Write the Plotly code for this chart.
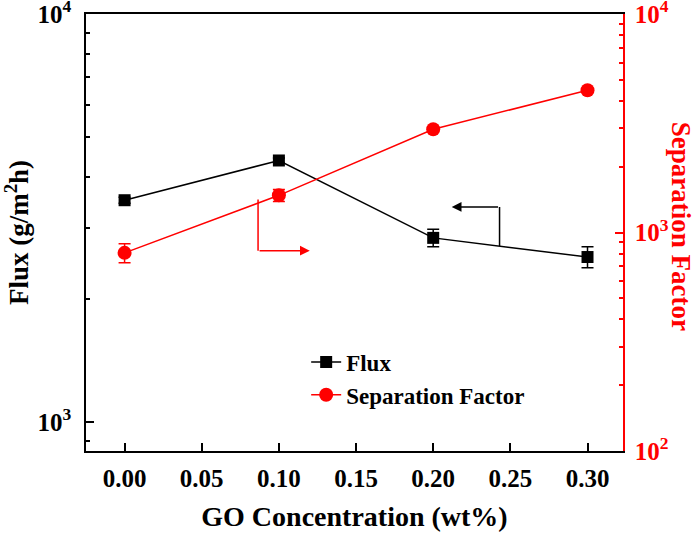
import plotly.graph_objects as go
import math

go_conc = [0.00, 0.10, 0.20, 0.30]
flux = [3500, 4380, 2830, 2540]
flux_err = [60, 60, 140, 150]
sep_factor = [807, 1480, 2970, 4480]
sep_err = [80, 95, 0, 0]

x_ticks = [0.00, 0.05, 0.10, 0.15, 0.20, 0.25, 0.30]
x_ticktext = ["0.00", "0.05", "0.10", "0.15", "0.20", "0.25", "0.30"]
left_tickvals = [1000, 10000]
left_ticktext = ["10<sup>3</sup>", "10<sup>4</sup>"]
right_tickvals = [100, 1000, 10000]
right_ticktext = ["10<sup>2</sup>", "10<sup>3</sup>", "10<sup>4</sup>"]

FONT = "Liberation Serif"
RED = "#ff0000"

fig = go.Figure()
fig.add_trace(go.Scatter(
    x=go_conc, y=flux, name="Flux", mode="lines+markers",
    line=dict(color="black", width=1.5),
    marker=dict(symbol="square", size=12, color="black"),
    error_y=dict(type="data", array=flux_err, color="black", thickness=1.5, width=6),
    yaxis="y",
))
fig.add_trace(go.Scatter(
    x=go_conc, y=sep_factor, name="Separation Factor", mode="lines+markers",
    line=dict(color=RED, width=1.5),
    marker=dict(symbol="circle", size=14, color=RED),
    error_y=dict(type="data", array=sep_err, color=RED, thickness=1.5, width=6),
    yaxis="y2",
))

minor_left = [900] + [v * 1000 for v in range(2, 10)]
minor_right = [v * 100 for v in range(2, 10)] + [v * 1000 for v in range(2, 10)]

fig.update_layout(
    width=700, height=535,
    margin=dict(l=86, r=77, t=14, b=84, autoexpand=False),
    paper_bgcolor="white", plot_bgcolor="white",
    font=dict(family=FONT, color="black"),
    xaxis=dict(
        range=[-0.025, 0.323], tickvals=x_ticks, ticktext=x_ticktext,
        ticks="inside", ticklen=8, tickwidth=1.5, tickcolor="black",
        showline=True, linecolor="black", linewidth=1.5, mirror=True,
        showgrid=False, zeroline=False, automargin=False, ticklabelstandoff=4,
        ticklabeloverflow="allow",
        tickfont=dict(family=FONT, size=25, color="black", weight="bold"),
        title=dict(text="<b>GO Concentration (wt%)</b>", font=dict(family=FONT, size=28), standoff=16),
    ),
    yaxis=dict(
        type="log", range=[math.log10(850), 4.0005],
        tickvals=left_tickvals, ticktext=left_ticktext,
        ticks="inside", ticklen=8, tickwidth=1.5, tickcolor="black",
        minor=dict(tickmode="array", tickvals=minor_left, ticks="inside", ticklen=4, tickwidth=1.5, tickcolor="black", showgrid=False),
        showline=True, linecolor="black", linewidth=1.5,
        showgrid=False, zeroline=False, automargin=False, ticklabelstandoff=8,
        ticklabeloverflow="allow",
        tickfont=dict(family=FONT, size=25, color="black", weight="bold"),
        title=dict(text="<b>Flux (g/m<sup>2</sup>h)</b>", font=dict(family=FONT, size=27), standoff=2),
    ),
    yaxis2=dict(
        type="log", range=[1.9995, 4.0005], overlaying="y", side="right",
        tickvals=right_tickvals, ticktext=right_ticktext,
        ticks="inside", ticklen=8, tickwidth=1.5, tickcolor=RED,
        minor=dict(tickmode="array", tickvals=minor_right, ticks="inside", ticklen=4, tickwidth=1.5, tickcolor=RED, showgrid=False),
        showline=True, linecolor=RED, linewidth=1.5,
        showgrid=False, zeroline=False, automargin=False, ticklabelstandoff=5,
        ticklabeloverflow="allow",
        tickfont=dict(family=FONT, size=25, color=RED, weight="bold"),
    ),
    legend=dict(
        x=0.41, y=0.253, xanchor="left", yanchor="top",
        bgcolor="rgba(0,0,0,0)", font=dict(family=FONT, size=23, color="black", weight="bold"),
        itemwidth=30,
    ),
    showlegend=True,
)

# Right axis title (rotated, reading top to bottom)
fig.add_annotation(
    text="<b>Separation Factor</b>", xref="paper", yref="paper",
    x=1.108, y=0.513, xanchor="center", yanchor="middle", textangle=90, showarrow=False,
    font=dict(family=FONT, size=27, color=RED),
)

# Red bent arrow pointing to the right axis
red_arrow_x0, red_arrow_x1 = 0.0865, 0.12
red_arrow_ytop, red_arrow_ybot = 1440, 826
fig.add_annotation(
    x=red_arrow_x0, y=math.log10(red_arrow_ybot), ax=red_arrow_x0, ay=math.log10(red_arrow_ytop),
    xref="x", yref="y2", axref="x", ayref="y2", text="", showarrow=True,
    arrowhead=0, arrowwidth=1.5, arrowcolor=RED, standoff=0, startstandoff=0,
)
fig.add_annotation(
    x=red_arrow_x1, y=math.log10(red_arrow_ybot), ax=red_arrow_x0, ay=math.log10(red_arrow_ybot),
    xref="x", yref="y2", axref="x", ayref="y2", text="", showarrow=True,
    arrowhead=2, arrowsize=1.3, arrowwidth=1.5, arrowcolor=RED, standoff=0, startstandoff=0,
)

# Black bent arrow pointing to the left axis
blk_arrow_x0, blk_arrow_x1 = 0.243, 0.212
blk_arrow_ybot, blk_arrow_ytop = 2680, 3370
fig.add_annotation(
    x=blk_arrow_x0, y=math.log10(blk_arrow_ytop), ax=blk_arrow_x0, ay=math.log10(blk_arrow_ybot),
    xref="x", yref="y", axref="x", ayref="y", text="", showarrow=True,
    arrowhead=0, arrowwidth=1.5, arrowcolor="black", standoff=0, startstandoff=0,
)
fig.add_annotation(
    x=blk_arrow_x1, y=math.log10(blk_arrow_ytop), ax=blk_arrow_x0, ay=math.log10(blk_arrow_ytop),
    xref="x", yref="y", axref="x", ayref="y", text="", showarrow=True,
    arrowhead=2, arrowsize=1.3, arrowwidth=1.5, arrowcolor="black", standoff=0, startstandoff=0,
)

# remove the default 8px page margin so the figure fills the window exactly
fig.write_html(
    "out.html",
    config={"displayModeBar": False},
    post_script="document.body.style.margin='0';document.body.style.overflow='hidden';",
)
